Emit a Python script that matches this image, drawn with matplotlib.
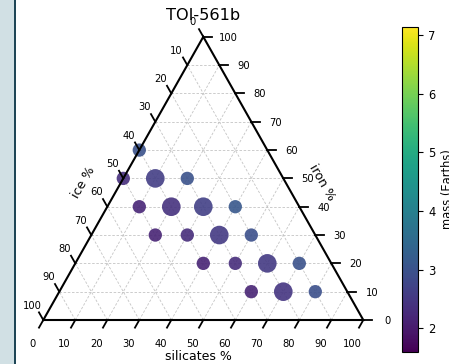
import numpy as np
import matplotlib
matplotlib.use("Agg")
import matplotlib.pyplot as plt
from matplotlib.patches import Rectangle

# composition grid (percent) for TOI-561b models
silicates = [0, 0, 10, 20, 10, 20, 30, 40, 20, 30, 40, 50, 40, 50, 60, 70, 60, 70, 80]
iron = [60, 50, 50, 50, 40, 40, 40, 40, 30, 30, 30, 30, 20, 20, 20, 20, 10, 10, 10]
ice = [40, 50, 40, 30, 50, 40, 30, 20, 50, 40, 30, 20, 40, 30, 20, 10, 30, 20, 10]
mass = [3.0, 2.35, 2.6, 3.0, 2.2, 2.4, 2.65, 3.1, 2.15, 2.3, 2.55, 2.95,
        2.15, 2.3, 2.55, 3.0, 2.15, 2.45, 2.95]
big = [0, 0, 1, 0, 0, 1, 1, 0, 0, 0, 1, 0, 0, 0, 1, 0, 0, 1, 0]
mass_min, mass_max = 1.6, 7.14
ticks = list(range(0, 101, 10))

H = np.sqrt(3) / 2


def proj(b, r):
    # b = bottom (silicates), r = right (iron)
    return b + r / 2.0, r * H


fig = plt.figure(figsize=(4.49, 3.64), dpi=100)
W, HH = 449.0, 364.0

# left side strip
fig.patches.append(Rectangle((0, 0), 14 / W, 1, transform=fig.transFigure,
                             facecolor="#d1e0e4", edgecolor="none", zorder=0))
fig.patches.append(Rectangle((14 / W, 0), 2 / W, 1, transform=fig.transFigure,
                             facecolor="#1e4656", edgecolor="none", zorder=0))

ax = fig.add_axes([43.3 / W, 44 / HH, 320 / W, 283.2 / HH])
ax.set_xlim(0, 100)
ax.set_ylim(0, 100 * H)
ax.axis("off")

# gridlines
gk = dict(color="#c4c4c4", lw=0.6, linestyle=(0, (3, 2)), zorder=1)
for v in ticks[1:-1]:
    x0, y0 = proj(0, v)
    x1, y1 = proj(100 - v, v)
    ax.plot([x0, x1], [y0, y1], **gk)
    x0, y0 = proj(v, 0)
    x1, y1 = proj(v, 100 - v)
    ax.plot([x0, x1], [y0, y1], **gk)
    x0, y0 = proj(100 - v, 0)
    x1, y1 = proj(0, 100 - v)
    ax.plot([x0, x1], [y0, y1], **gk)

# boundary
ax.plot([0, 100, 50, 0], [0, 0, 100 * H, 0], color="black", lw=1.5,
        zorder=3, clip_on=False, solid_joinstyle="miter")

# ticks
off = 2.7
tk = dict(color="black", lw=1.3, clip_on=False, zorder=3)
fs = 7.2
for t in ticks:
    # bottom
    ax.plot([t, t - off / 2], [0, -off * H], **tk)
    x, y = proj(t + 0.5 * off, -3.5 * off)
    ax.text(x, y, str(t), ha="center", fontsize=fs)
    # right
    x0, y0 = proj(100 - t, t)
    ax.plot([x0, x0 + off], [y0, y0], **tk)
    x, y = proj(100 - t + 3.1 * off, t - 0.5 * off)
    ax.text(x, y, str(t), ha="center", fontsize=fs)
    # left
    x0, y0 = proj(0, t)
    x1, y1 = proj(-off, t + off)
    ax.plot([x0, x1], [y0, y1], **tk)
    x, y = proj(-2 * off, t + 1.5 * off)
    ax.text(x, y, str(100 - t), ha="center", fontsize=fs)

# axis labels
ax.text(48.4, -11.3, "silicates %", ha="center", va="center", fontsize=9)
ax.text(12.7, 42.2, "ice %", ha="center", va="center", rotation=60, fontsize=9)
ax.text(87.0, 42.0, "iron %", ha="center", va="center", rotation=-60, fontsize=9)

xs, ys = proj(np.array(silicates, float), np.array(iron, float))
sizes = [180 if b else 92 for b in big]
sc = ax.scatter(xs, ys, s=sizes, c=mass, cmap="viridis", vmin=mass_min,
                vmax=mass_max, alpha=0.9, edgecolors="none", zorder=2,
                clip_on=False)

ax.set_title("TOI-561b", fontsize=11.6, pad=12)

cax = fig.add_axes([401.7 / W, 12.3 / HH, 16.6 / W, 325 / HH])
cb = fig.colorbar(sc, cax=cax)
cb.solids.set_alpha(1)
cb.set_ticks([2, 3, 4, 5, 6, 7])
cb.ax.tick_params(labelsize=8.3)
cb.set_label("mass (Earths)", fontsize=8.3)

fig.savefig("out.png", dpi=100)
